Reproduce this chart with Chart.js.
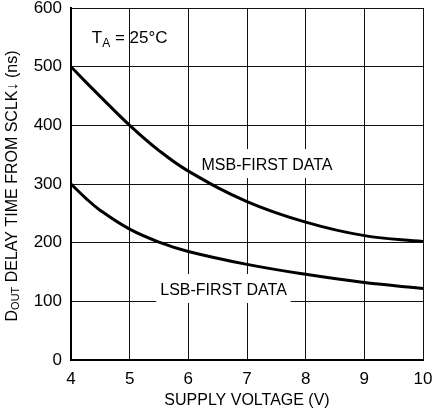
<!DOCTYPE html>
<html><head><meta charset="utf-8">
<script src="https://cdn.jsdelivr.net/npm/chart.js@4.4.1/dist/chart.umd.min.js"></script>
<style>html,body{margin:0;padding:0;background:#fff}#wrap{width:438px;height:414px}</style>
</head><body><div id="wrap"><canvas id="c" width="438" height="414"></canvas></div>
<script>
const voltage = [4, 4.25, 4.5, 5, 5.5, 6, 7, 8, 9, 10];
const msbDelay = [500, 474, 449, 400, 357, 322, 270, 235, 212, 202];
const lsbDelay = [300, 276, 255, 223, 201, 185, 163, 146, 132, 122];
const xTicks = [4, 5, 6, 7, 8, 9, 10];
const yTicks = [0, 100, 200, 300, 400, 500, 600];
const labels = [
  {text: 'MSB-FIRST DATA', x: 7.34, y: 334},
  {text: 'LSB-FIRST DATA', x: 6.60, y: 121}
];
const FONT = "'Liberation Sans', Arial, sans-serif";

const pts = a => voltage.map((v, i) => ({x: v, y: a[i]}));

const annot = {
  id: 'annot',
  beforeDatasetsDraw(chart) {
    const {ctx, scales: {x, y}} = chart;
    ctx.save();
    ctx.font = '16px ' + FONT;
    ctx.textBaseline = 'alphabetic';
    ctx.textAlign = 'center';
    labels.forEach(l => {
      const px = x.getPixelForValue(l.x), py = y.getPixelForValue(l.y);
      const w = ctx.measureText(l.text).width;
      ctx.fillStyle = '#fff';
      ctx.fillRect(px - w / 2 - 4, py - 15, w + 8, 29);
      ctx.fillStyle = '#000';
      ctx.fillText(l.text, px, py + 6);
    });
    // T_A = 25°C
    const tx = x.getPixelForValue(4.354), ty = y.getPixelForValue(551) + 6;
    ctx.textAlign = 'left';
    ctx.font = '17px ' + FONT;
    ctx.fillText('T', tx, ty);
    let cx = tx + ctx.measureText('T').width;
    ctx.font = '12px ' + FONT;
    ctx.fillText('A', cx, ty + 4);
    cx += ctx.measureText('A').width;
    ctx.font = '17px ' + FONT;
    ctx.fillText(' = 25°C', cx, ty);
    ctx.restore();
  },
  afterDraw(chart) {
    const {ctx, chartArea: ca} = chart;
    ctx.save();
    ctx.translate(13, (ca.top + ca.bottom) / 2 + 2);
    ctx.rotate(-Math.PI / 2);
    ctx.fillStyle = '#000';
    ctx.textBaseline = 'middle';
    ctx.textAlign = 'left';
    const big = '16px ' + FONT, small = '11px ' + FONT;
    ctx.font = big; const wD = ctx.measureText('D').width;
    const rest = ' DELAY TIME FROM SCLK\u2193 (ns)';
    const wR = ctx.measureText(rest).width;
    ctx.font = small; const wO = ctx.measureText('OUT').width;
    let sx = -(wD + wO + wR) / 2;
    ctx.font = big; ctx.fillText('D', sx, 0); sx += wD;
    ctx.font = small; ctx.fillText('OUT', sx, 3); sx += wO;
    ctx.font = big; ctx.fillText(rest, sx, 0);
    ctx.restore();
  }
};

new Chart(document.getElementById('c'), {
  type: 'line',
  data: {
    datasets: [
      {label: 'MSB-FIRST DATA', data: pts(msbDelay), borderColor: '#000', borderWidth: 3, pointRadius: 0, tension: 0.4, fill: false},
      {label: 'LSB-FIRST DATA', data: pts(lsbDelay), borderColor: '#000', borderWidth: 3, pointRadius: 0, tension: 0.4, fill: false}
    ]
  },
  options: {
    responsive: false,
    animation: false,
    devicePixelRatio: 1,
    layout: {padding: {top: 8, right: 15, left: 0, bottom: 0}},
    plugins: {legend: {display: false}, tooltip: {enabled: false}},
    scales: {
      x: {
        type: 'linear', min: 4, max: 10,
        afterBuildTicks: s => { s.ticks = xTicks.map(v => ({value: v})); },
        afterFit: s => { s.height = 54; s.paddingLeft = 0; s.paddingRight = 0; },
        grid: {color: '#111', lineWidth: 1, drawTicks: false},
        border: {color: '#000', width: 2},
        ticks: {color: '#000', font: {family: FONT, size: 17}, padding: 9, maxRotation: 0},
        title: {display: true, text: 'SUPPLY VOLTAGE (V)', color: '#000', font: {family: FONT, size: 16}, padding: {top: 0, bottom: 4}}
      },
      y: {
        min: 0, max: 600,
        afterBuildTicks: s => { s.ticks = yTicks.map(v => ({value: v})); },
        afterFit: s => { s.width = 71; s.paddingTop = 0; s.paddingBottom = 0; },
        grid: {color: '#111', lineWidth: 1, drawTicks: false},
        border: {color: '#000', width: 2},
        ticks: {color: '#000', font: {family: FONT, size: 17}, padding: 9}
      }
    }
  },
  plugins: [annot]
});
</script></body></html>
